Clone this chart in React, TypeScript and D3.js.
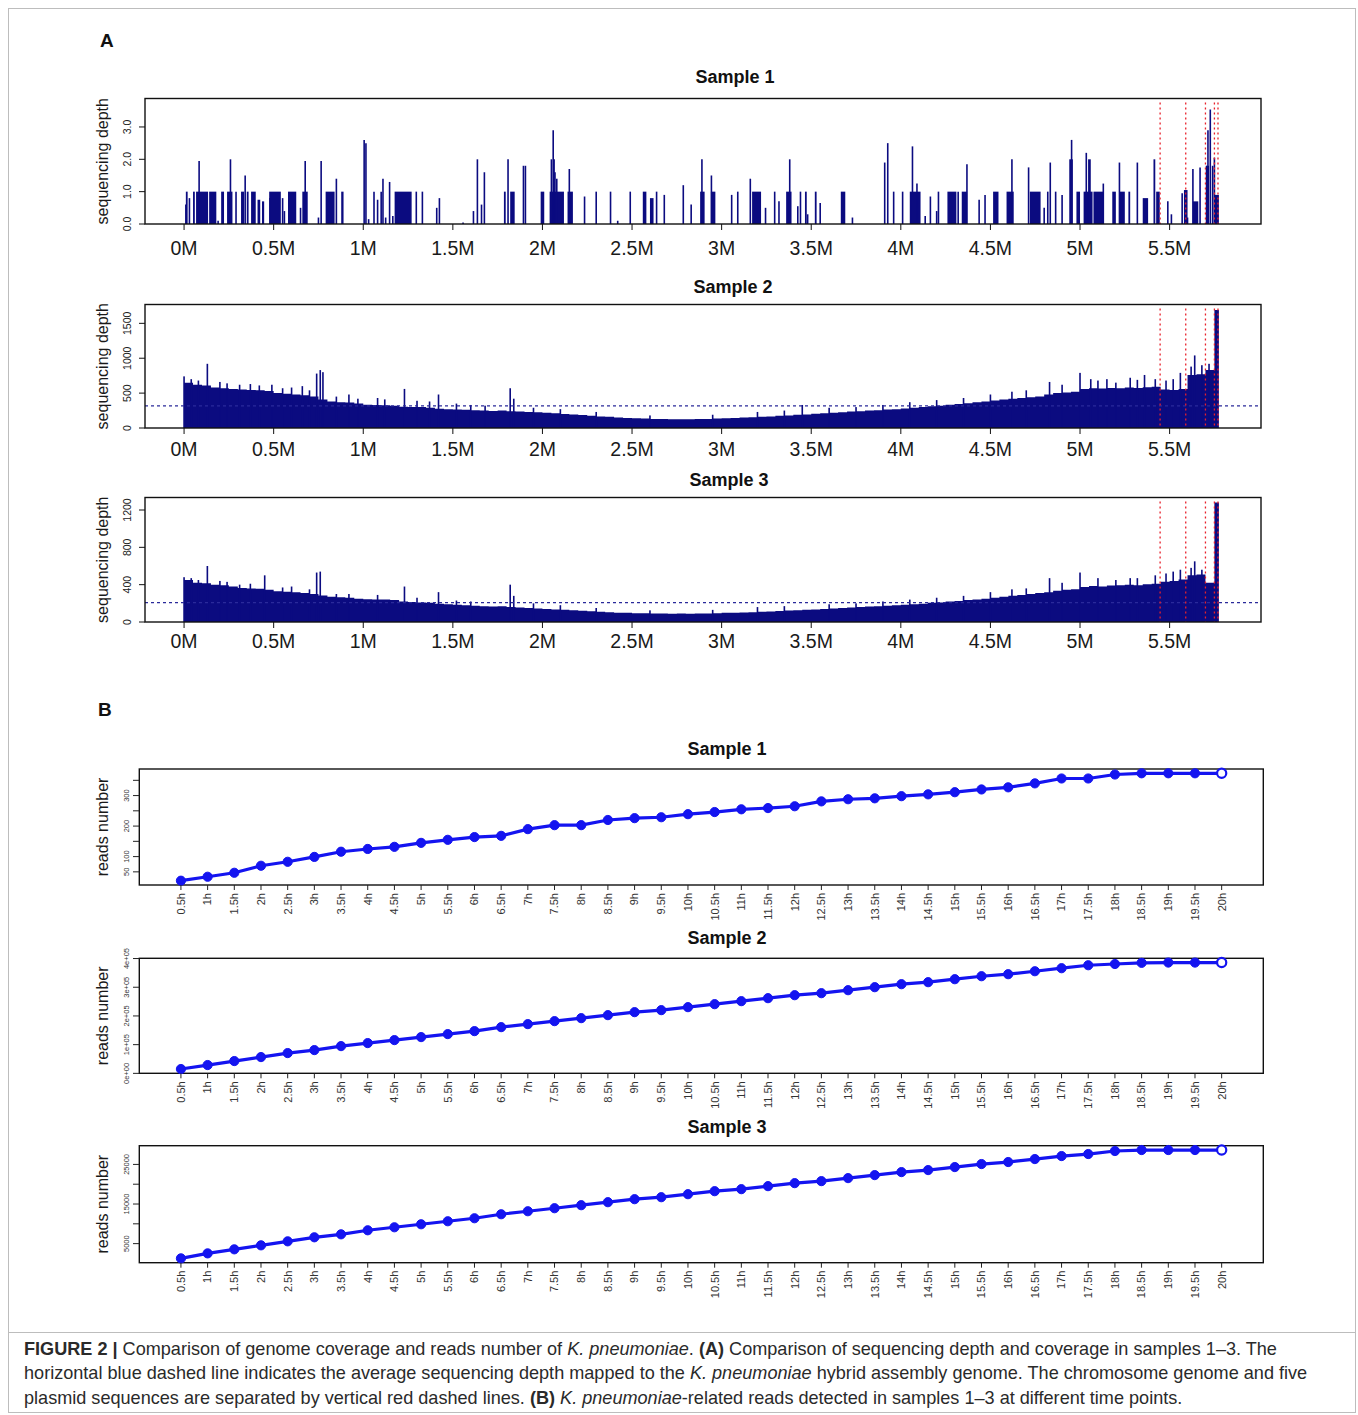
import React, { useEffect } from 'react';
import * as d3 from 'd3';

// ---- panel A : coverage along the genome (positions in Mb) ----
const xTicksA = [0, 0.5, 1, 1.5, 2, 2.5, 3, 3.5, 4, 4.5, 5, 5.5];
const plasmidBreaks = [5.447, 5.59, 5.7, 5.75, 5.77];
const genomeEnd = 5.775;
const binSize = 0.05;

// sample 1: runs of covered bases [start, end, depth] and single spikes [pos, depth]
const s1Blocks = [
  [0.01, 0.02, 1], [0.05, 0.06, 1], [0.067, 0.134, 1], [0.14, 0.18, 1], [0.207, 0.223, 1],
  [0.24, 0.27, 1], [0.318, 0.335, 1], [0.35, 0.36, 1], [0.374, 0.4, 1], [0.41, 0.425, 0.75],
  [0.435, 0.447, 0.7], [0.475, 0.54, 1], [0.58, 0.626, 1], [0.66, 0.69, 1], [0.79, 0.84, 1],
  [0.877, 0.89, 1], [1.175, 1.27, 1], [1.785, 1.795, 1], [1.82, 1.845, 1], [1.99, 2.01, 1],
  [2.04, 2.12, 1], [2.14, 2.17, 1], [2.56, 2.58, 1], [2.6, 2.62, 0.8], [2.88, 2.905, 1],
  [2.94, 2.965, 1], [3.17, 3.22, 1], [3.36, 3.39, 1], [3.465, 3.475, 1], [3.52, 3.53, 1],
  [3.665, 3.69, 1], [4.05, 4.11, 1], [4.26, 4.31, 1], [4.34, 4.37, 1], [4.515, 4.545, 1],
  [4.59, 4.63, 1], [4.72, 4.78, 1], [4.94, 4.96, 2], [4.98, 5.0, 1], [5.02, 5.07, 1],
  [5.045, 5.06, 2], [5.075, 5.13, 1], [5.18, 5.2, 1], [5.22, 5.25, 1], [5.27, 5.28, 1],
  [5.35, 5.38, 0.8], [5.41, 5.42, 2], [5.425, 5.445, 1], [5.58, 5.6, 1.05], [5.63, 5.66, 0.7],
  [5.705, 5.72, 1.8], [5.75, 5.775, 0.9],
];
const s1Spikes = [
  [0.01, 0.6], [0.03, 0.8], [0.084, 1.95], [0.19, 0.1], [0.259, 2.0], [0.29, 1.0], [0.341, 1.5],
  [0.48, 0.8], [0.55, 0.8], [0.56, 0.4], [0.65, 0.5], [0.676, 1.95], [0.75, 0.2], [0.765, 1.95],
  [0.85, 1.4], [1.005, 2.6], [1.015, 2.5], [1.03, 0.15], [1.06, 1.0], [1.08, 0.75], [1.1, 1.0],
  [1.11, 1.4], [1.125, 0.2], [1.147, 1.3], [1.165, 0.25], [1.296, 1.0], [1.33, 1.0], [1.41, 0.5],
  [1.425, 0.8], [1.557, 0.05], [1.615, 0.4], [1.637, 2.0], [1.66, 0.6], [1.676, 1.6], [1.808, 2.0],
  [1.894, 1.8], [1.905, 1.8], [2.05, 2.0], [2.06, 2.9], [2.065, 2.0], [2.07, 1.6], [2.08, 1.4],
  [2.15, 1.7], [2.235, 0.85], [2.3, 1.0], [2.38, 1.0], [2.42, 0.1], [2.49, 1.0], [2.637, 1.0],
  [2.68, 0.9], [2.786, 1.2], [2.83, 0.6], [2.89, 2.0], [2.943, 1.5], [3.056, 0.9], [3.09, 1.0],
  [3.16, 1.4], [3.245, 0.5], [3.296, 1.0], [3.32, 0.7], [3.38, 2.0], [3.425, 0.55], [3.44, 1.0],
  [3.48, 0.3], [3.55, 0.65], [3.73, 0.2], [3.91, 1.9], [3.927, 2.5], [3.96, 1.0], [4.01, 1.0],
  [4.065, 2.4], [4.09, 1.25], [4.136, 0.25], [4.165, 0.85], [4.2, 0.4], [4.21, 1.0], [4.32, 1.0],
  [4.369, 1.85], [4.437, 0.75], [4.47, 0.9], [4.62, 2.0], [4.713, 1.75], [4.8, 0.5], [4.82, 1.0],
  [4.834, 1.9], [4.864, 1.0], [4.9, 0.9], [4.953, 2.6], [5.035, 2.2], [5.13, 1.25], [5.22, 1.9],
  [5.32, 1.9], [5.49, 0.7], [5.51, 0.3], [5.57, 0.95], [5.6, 0.2], [5.63, 1.7], [5.67, 1.75],
  [5.706, 1.8], [5.714, 2.9], [5.727, 3.54], [5.74, 1.8], [5.75, 2.05],
];

// samples 2 and 3: depth per 0.05 Mb bin starting at 0, plus local peaks [pos, depth]
const s2Bins = [
  650, 620, 610, 580, 570, 560, 550, 545, 540, 530, 500, 490, 480, 470, 450, 410, 380, 370, 365, 350,
  335, 330, 325, 320, 305, 300, 300, 290, 275, 270, 265, 260, 255, 250, 245, 250, 240, 235, 230, 225,
  220, 210, 200, 195, 185, 175, 165, 160, 150, 145, 140, 135, 130, 130, 125, 125, 125, 130, 130, 135,
  140, 145, 150, 155, 160, 165, 175, 180, 190, 195, 205, 210, 220, 225, 235, 240, 250, 255, 265, 270,
  280, 290, 300, 310, 320, 335, 345, 355, 370, 380, 395, 410, 420, 430, 440, 450, 480, 500, 510, 520,
  560, 570, 565, 575, 570, 580, 575, 585, 590, 550, 545, 560, 760, 770, 830, 1690,
];
const s2Spikes = [
  [0.0, 740], [0.13, 920], [0.49, 620], [0.66, 600], [0.74, 780], [0.76, 830], [0.775, 800],
  [0.92, 480], [1.23, 560], [1.42, 480], [1.82, 570], [1.84, 420], [3.45, 330], [4.83, 660],
  [5.0, 790], [5.06, 700], [5.15, 700], [5.28, 720], [5.36, 760], [5.42, 700], [5.56, 790], [5.64, 1040],
  [0.04, 700], [0.08, 680], [0.2, 660], [0.24, 640], [0.31, 620], [0.37, 630], [0.42, 610], [0.55, 570],
  [0.6, 580], [0.7, 540], [0.85, 450], [0.97, 420], [1.08, 430], [1.12, 410], [1.3, 390], [1.37, 380],
  [1.52, 350], [1.6, 330], [1.68, 320], [1.95, 290], [2.1, 270], [2.3, 230], [2.6, 180], [2.95, 190],
  [3.2, 230], [3.35, 250], [3.6, 290], [3.75, 300], [3.9, 330], [4.05, 370], [4.2, 400], [4.35, 430],
  [4.5, 480], [4.62, 520], [4.7, 540], [4.9, 620], [5.1, 680], [5.2, 650], [5.32, 690], [5.48, 680],
  [5.52, 700], [5.62, 880], [5.68, 900], [5.72, 920],
];
const s2Mean = 318;

const s3Bins = [
  450, 420, 415, 400, 395, 380, 365, 360, 355, 345, 330, 325, 320, 310, 300, 285, 270, 265, 260, 250,
  245, 240, 240, 235, 220, 215, 210, 205, 195, 190, 185, 180, 175, 170, 165, 170, 160, 155, 150, 145,
  140, 135, 130, 125, 120, 115, 110, 105, 100, 100, 95, 95, 90, 90, 88, 90, 88, 90, 92, 95,
  98, 100, 102, 105, 110, 112, 118, 122, 125, 130, 135, 140, 145, 150, 155, 160, 165, 170, 175, 180,
  185, 190, 195, 205, 210, 220, 225, 235, 240, 250, 260, 270, 280, 290, 300, 310, 320, 335, 345, 350,
  375, 385, 380, 390, 395, 400, 395, 405, 410, 430, 440, 455, 500, 510, 420, 1280,
];
const s3Spikes = [
  [0.0, 480], [0.13, 600], [0.45, 500], [0.74, 530], [0.76, 540], [0.92, 300], [1.23, 380],
  [1.42, 320], [1.82, 400], [1.84, 280], [4.83, 470], [5.0, 530], [5.28, 470], [5.42, 500],
  [5.56, 560], [5.64, 650],
  [0.04, 470], [0.08, 450], [0.2, 440], [0.24, 430], [0.31, 400], [0.37, 410], [0.55, 370], [0.6, 380],
  [0.7, 350], [0.85, 300], [1.08, 290], [1.3, 260], [1.52, 230], [1.6, 220], [1.95, 200], [2.1, 180],
  [2.3, 150], [2.6, 125], [2.95, 130], [3.2, 160], [3.35, 170], [3.6, 190], [3.75, 200], [3.9, 220],
  [4.05, 240], [4.2, 260], [4.35, 280], [4.5, 320], [4.62, 350], [4.7, 360], [4.9, 420], [5.1, 470],
  [5.2, 450], [5.32, 470], [5.48, 520], [5.52, 540], [5.62, 580], [5.68, 560],
];
const s3Mean = 208;

// ---- panel B : reads number over time ----
const timeLabels = [
  '0.5h', '1h', '1.5h', '2h', '2.5h', '3h', '3.5h', '4h', '4.5h', '5h', '5.5h', '6h', '6.5h', '7h',
  '7.5h', '8h', '8.5h', '9h', '9.5h', '10h', '10.5h', '11h', '11.5h', '12h', '12.5h', '13h', '13.5h',
  '14h', '14.5h', '15h', '15.5h', '16h', '16.5h', '17h', '17.5h', '18h', '18.5h', '19h', '19.5h', '20h',
];
const reads1 = [
  21, 34, 47, 70, 83, 99, 116, 125, 132, 145, 155, 164, 168, 190, 203, 203, 220, 226, 229, 239,
  246, 255, 259, 265, 281, 288, 291, 298, 304, 311, 320, 327, 340, 356, 356, 369, 373, 373, 373, 373,
];
const reads2 = [
  15000, 28900, 42800, 56700, 70600, 81000, 94900, 105400, 115800, 126300, 136700, 147100, 161000,
  171500, 181900, 192300, 202800, 213200, 220200, 230600, 241000, 251500, 261900, 272300, 279300,
  289700, 300200, 310600, 317600, 328000, 338400, 345400, 355800, 366300, 376700, 381000, 385000,
  386000, 386000, 386000,
];
const reads3 = [
  1280, 2540, 3560, 4570, 5580, 6600, 7350, 8370, 9130, 9890, 10650, 11410, 12420, 13180, 13940,
  14700, 15460, 16220, 16720, 17480, 18240, 18750, 19510, 20270, 20780, 21540, 22300, 23060, 23570,
  24330, 25090, 25600, 26350, 27110, 27620, 28380, 28630, 28630, 28630, 28630,
];
const yTicksB1 = [50, 100, 150, 200, 250, 300, 350];
const yLabelsB1 = [50, 100, 200, 300];
const yTicksB2 = [0, 100000, 200000, 300000, 400000];
const yLabelsB2 = ['0e+00', '1e+05', '2e+05', '3e+05', '4e+05'];
const yTicksB3 = [5000, 10000, 15000, 20000, 25000];
const yLabelsB3 = [5000, 15000, 25000];

const W = 1358;
const H = 1415;
const FONT = '"Liberation Sans", Arial, Helvetica, sans-serif';
const NAVY = '#0b0b80';
const BLUE = '#1414f0';

const xA = d3.scaleLinear().domain([-0.218, 6.01]).range([145, 1261]);

function AxisA({ y, top, bottom, yTicks, fmt, labelDy }) {
  const mid = (top + bottom) / 2;
  return (
    <g fontFamily={FONT}>
      {xTicksA.map((t) => (
        <g key={t}>
          <line x1={xA(t)} x2={xA(t)} y1={bottom} y2={bottom + 6} stroke="#111" strokeWidth={1} />
          <text x={xA(t)} y={bottom + labelDy} fontSize={19.5} textAnchor="middle" fill="#1a1a1a">
            {t + 'M'}
          </text>
        </g>
      ))}
      {yTicks.map((t) => (
        <g key={t}>
          <line x1={139} x2={145} y1={y(t)} y2={y(t)} stroke="#111" strokeWidth={1} />
          <text
            transform={`translate(131,${y(t)}) rotate(-90)`}
            fontSize={10.5}
            textAnchor="middle"
            fill="#222"
          >
            {fmt(t)}
          </text>
        </g>
      ))}
      <text transform={`translate(108,${mid}) rotate(-90)`} fontSize={16} textAnchor="middle" fill="#1a1a1a">
        sequencing depth
      </text>
      <rect x={145} y={top} width={1116} height={bottom - top} fill="none" stroke="#111" strokeWidth={1.4} />
    </g>
  );
}

function Breaks({ top, bottom }) {
  return (
    <g>
      {plasmidBreaks.map((b) => (
        <line
          key={b}
          x1={xA(b)}
          x2={xA(b)}
          y1={top + 4}
          y2={bottom}
          stroke="#e8202a"
          strokeWidth={1.3}
          strokeDasharray="2,3"
        />
      ))}
    </g>
  );
}

function DensePanel({ bins, spikes, mean, top, bottom, yMax, yTicks, title, titleX, labelDy }) {
  const y = d3.scaleLinear().domain([0, yMax]).range([bottom, top]);
  const pts = bins.map((v, i) => [i * binSize, v]);
  pts.push([genomeEnd, bins[bins.length - 1]]);
  const area = d3
    .area()
    .x((d) => xA(d[0]))
    .y0(bottom)
    .y1((d) => y(d[1]))
    .curve(d3.curveStepAfter);
  return (
    <g>
      <text x={titleX} y={top - 12} fontFamily={FONT} fontSize={18} fontWeight="bold" textAnchor="middle" fill="#111">
        {title}
      </text>
      <path d={area(pts)} fill={NAVY} />
      {spikes.map(([p, v], i) => (
        <rect key={i} x={xA(p) - 0.8} y={y(v)} width={1.6} height={bottom - y(v)} fill={NAVY} />
      ))}
      <line x1={145} x2={1261} y1={y(mean)} y2={y(mean)} stroke="#2a2a9a" strokeWidth={1.3} strokeDasharray="3,3" />
      <Breaks top={top} bottom={bottom} />
      <AxisA y={y} top={top} bottom={bottom} yTicks={yTicks} fmt={(t) => String(t)} labelDy={labelDy} />
    </g>
  );
}

function SparsePanel({ top, bottom }) {
  const y = d3.scaleLinear().domain([0, 3.88]).range([bottom, top]);
  return (
    <g>
      <text x={735} y={top - 16} fontFamily={FONT} fontSize={18} fontWeight="bold" textAnchor="middle" fill="#111">
        Sample 1
      </text>
      {s1Blocks.map(([a, b, v], i) => (
        <rect key={i} x={xA(a)} y={y(v)} width={Math.max(1.2, xA(b) - xA(a))} height={bottom - y(v)} fill={NAVY} />
      ))}
      {s1Spikes.map(([p, v], i) => (
        <line key={i} x1={xA(p)} x2={xA(p)} y1={bottom} y2={y(v)} stroke={NAVY} strokeWidth={1.6} />
      ))}
      <Breaks top={top} bottom={bottom} />
      <AxisA y={y} top={top} bottom={bottom} yTicks={[0, 1, 2, 3]} fmt={(t) => t.toFixed(1)} labelDy={31} />
    </g>
  );
}

const xB = d3.scaleLinear().domain([-1.56, 40.56]).range([139.3, 1263.3]);

function ReadsPanel({ values, top, bottom, title, titleY, yTicks, yLabels, labelVals }) {
  const [lo, hi] = d3.extent(values);
  const pad = (hi - lo) * 0.04;
  const y = d3.scaleLinear().domain([lo - pad, hi + pad]).range([bottom, top]);
  const line = d3
    .line()
    .x((d, i) => xB(i))
    .y((d) => y(d));
  const mid = (top + bottom) / 2;
  return (
    <g fontFamily={FONT}>
      <text x={727} y={titleY} fontSize={18} fontWeight="bold" textAnchor="middle" fill="#111">
        {title}
      </text>
      <rect x={139.3} y={top} width={1124} height={bottom - top} fill="none" stroke="#111" strokeWidth={1.4} />
      <path d={line(values)} fill="none" stroke={BLUE} strokeWidth={3.2} />
      {values.map((v, i) => (
        <circle
          key={i}
          cx={xB(i)}
          cy={y(v)}
          r={4.6}
          fill={i === values.length - 1 ? '#fff' : BLUE}
          stroke={BLUE}
          strokeWidth={i === values.length - 1 ? 2.2 : 1}
        />
      ))}
      {timeLabels.map((t, i) => (
        <g key={t}>
          <line x1={xB(i)} x2={xB(i)} y1={bottom} y2={bottom + 5} stroke="#222" strokeWidth={1} />
          <text
            transform={`translate(${xB(i)},${bottom + 8}) rotate(-90)`}
            dy="0.35em"
            fontSize={11}
            textAnchor="end"
            fill="#333"
          >
            {t}
          </text>
        </g>
      ))}
      {yTicks.map((t) => (
        <line key={t} x1={133} x2={139.3} y1={y(t)} y2={y(t)} stroke="#222" strokeWidth={1} />
      ))}
      {labelVals.map((t, i) => (
        <text
          key={t}
          transform={`translate(129,${y(t)}) rotate(-90)`}
          fontSize={7.5}
          textAnchor="middle"
          fill="#333"
        >
          {yLabels[i]}
        </text>
      ))}
      <text transform={`translate(108,${mid}) rotate(-90)`} fontSize={16} textAnchor="middle" fill="#1a1a1a">
        reads number
      </text>
    </g>
  );
}

export default function App() {
  useEffect(() => {
    document.body.style.margin = '0';
  }, []);
  return (
    <svg width={W} height={H} viewBox={`0 0 ${W} ${H}`} style={{ display: 'block', background: '#fff' }}>
      <rect x={8.5} y={8.5} width={1347} height={1404} fill="none" stroke="#bdbdbd" strokeWidth={1} />
      <text x={100} y={47} fontFamily={FONT} fontSize={19} fontWeight="bold" fill="#111">A</text>
      <SparsePanel top={98.5} bottom={224} />
      <DensePanel
        bins={s2Bins}
        spikes={s2Spikes}
        mean={s2Mean}
        top={304.5}
        bottom={428}
        yMax={1770}
        yTicks={[0, 500, 1000, 1500]}
        title="Sample 2"
        titleX={733}
        labelDy={28}
      />
      <DensePanel
        bins={s3Bins}
        spikes={s3Spikes}
        mean={s3Mean}
        top={497.5}
        bottom={622}
        yMax={1334}
        yTicks={[0, 400, 800, 1200]}
        title="Sample 3"
        titleX={729}
        labelDy={26}
      />
      <text x={98} y={716} fontFamily={FONT} fontSize={19} fontWeight="bold" fill="#111">B</text>
      <ReadsPanel
        values={reads1}
        top={769}
        bottom={885}
        title="Sample 1"
        titleY={755}
        yTicks={yTicksB1}
        yLabels={yLabelsB1.map(String)}
        labelVals={yLabelsB1}
      />
      <ReadsPanel
        values={reads2}
        top={958.3}
        bottom={1073.3}
        title="Sample 2"
        titleY={944}
        yTicks={yTicksB2}
        yLabels={yLabelsB2}
        labelVals={yTicksB2}
      />
      <ReadsPanel
        values={reads3}
        top={1145.7}
        bottom={1262.7}
        title="Sample 3"
        titleY={1133}
        yTicks={yTicksB3}
        yLabels={yLabelsB3.map(String)}
        labelVals={yLabelsB3}
      />
      <line x1={8} x2={1356} y1={1332.5} y2={1332.5} stroke="#bdbdbd" strokeWidth={1} />
      <g fontFamily={FONT} fontSize={18.1} fill="#2a2a2a">
        <text x={24} y={1355}>
          <tspan fontWeight="bold">FIGURE 2 |</tspan>
          <tspan> Comparison of genome coverage and reads number of </tspan>
          <tspan fontStyle="italic">K. pneumoniae</tspan>
          <tspan>. </tspan>
          <tspan fontWeight="bold">(A)</tspan>
          <tspan> Comparison of sequencing depth and coverage in samples 1–3. The</tspan>
        </text>
        <text x={24} y={1379}>
          <tspan>horizontal blue dashed line indicates the average sequencing depth mapped to the </tspan>
          <tspan fontStyle="italic">K. pneumoniae</tspan>
          <tspan> hybrid assembly genome. The chromosome genome and five</tspan>
        </text>
        <text x={24} y={1404}>
          <tspan>plasmid sequences are separated by vertical red dashed lines. </tspan>
          <tspan fontWeight="bold">(B)</tspan>
          <tspan> </tspan>
          <tspan fontStyle="italic">K. pneumoniae</tspan>
          <tspan>-related reads detected in samples 1–3 at different time points.</tspan>
        </text>
      </g>
    </svg>
  );
}
